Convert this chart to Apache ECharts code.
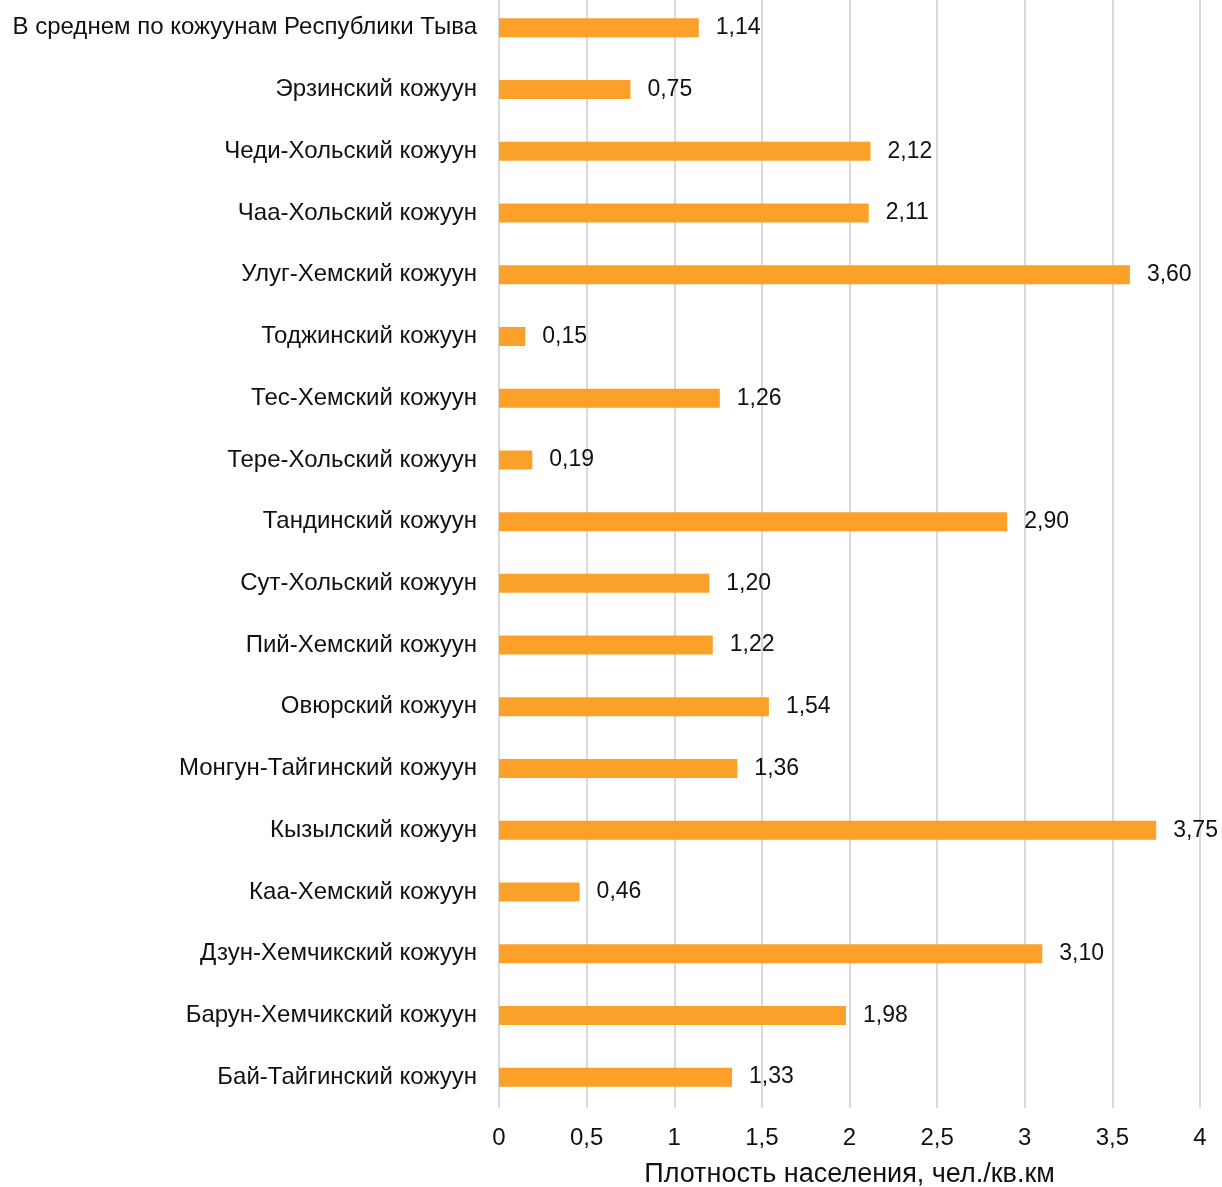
<!DOCTYPE html>
<html>
<head>
<meta charset="utf-8">
<script src="https://cdn.jsdelivr.net/npm/echarts@6/dist/echarts.min.js"></script>
<style>
html,body{margin:0;padding:0;background:#fff;}
#chart{width:1222px;height:1187px;}
</style>
</head>
<body>
<div id="chart"></div>
<script>
const categories = [
  "В среднем по кожуунам Республики Тыва",
  "Эрзинский кожуун",
  "Чеди-Хольский кожуун",
  "Чаа-Хольский кожуун",
  "Улуг-Хемский кожуун",
  "Тоджинский кожуун",
  "Тес-Хемский кожуун",
  "Тере-Хольский кожуун",
  "Тандинский кожуун",
  "Сут-Хольский кожуун",
  "Пий-Хемский кожуун",
  "Овюрский кожуун",
  "Монгун-Тайгинский кожуун",
  "Кызылский кожуун",
  "Каа-Хемский кожуун",
  "Дзун-Хемчикский кожуун",
  "Барун-Хемчикский кожуун",
  "Бай-Тайгинский кожуун"
];
const density = [1.14, 0.75, 2.12, 2.11, 3.60, 0.15, 1.26, 0.19, 2.90, 1.20, 1.22, 1.54, 1.36, 3.75, 0.46, 3.10, 1.98, 1.33];
const axisName = "Плотность населения, чел./кв.км";

const chart = echarts.init(document.getElementById('chart'));
chart.setOption({
  animation: false,
  grid: {left: 499, right: 22, top: -3, bottom: 79, containLabel: false, outerBoundsMode: 'none'},
  xAxis: {
    type: 'value', min: 0, max: 4, interval: 0.5,
    name: axisName, nameLocation: 'middle', nameGap: 53,
    nameTextStyle: {fontFamily: 'Liberation Sans', fontSize: 27, color: '#111'},
    axisLine: {show: false}, axisTick: {show: false},
    axisLabel: {margin: 18, fontFamily: 'Liberation Sans', fontSize: 24, color: '#111',
      formatter: v => String(v).replace('.', ',')},
    splitLine: {show: true, lineStyle: {color: '#d9d9d9', width: 2}}
  },
  yAxis: {
    type: 'category', data: categories, inverse: true,
    axisLine: {show: false}, axisTick: {show: false},
    axisLabel: {margin: 22, fontFamily: 'Liberation Sans', fontSize: 24, color: '#111', padding: [3, 0, 0, 0]}
  },
  series: [{
    type: 'bar', data: density, barWidth: 19,
    itemStyle: {color: '#fba12a'},
    label: {show: true, position: 'right', distance: 17, fontFamily: 'Liberation Sans', fontSize: 23, color: '#111',
      padding: [3, 0, 0, 0],
      formatter: p => p.value.toFixed(2).replace('.', ',')}
  }]
});
</script>
</body>
</html>
